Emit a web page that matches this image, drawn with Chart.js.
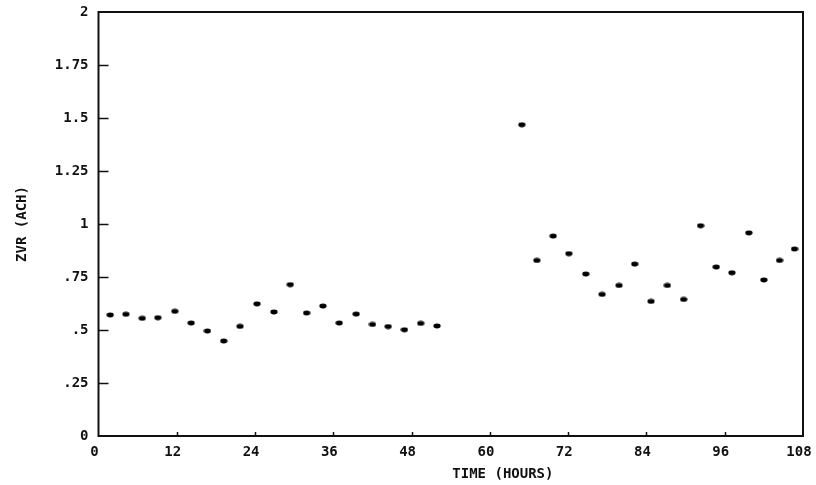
<!DOCTYPE html>
<html>
<head>
<meta charset="utf-8">
<script src="https://cdn.jsdelivr.net/npm/chart.js@4.4.1/dist/chart.umd.min.js"></script>
<style>
  html, body { margin: 0; padding: 0; background: #fff; }
  #wrap { position: relative; width: 816px; height: 485px; }
</style>
</head>
<body>
<div id="wrap"><canvas id="chart-zvr" width="816" height="485"></canvas></div>
<script>
/* ── ZVR vs time ── two test periods ── */

// first period (0 – 52 h)
const hoursA = [1.8, 4.2, 6.7, 9.1, 11.7, 14.2, 16.7, 19.2, 21.7, 24.3, 26.9,
                29.4, 31.9, 34.4, 36.9, 39.5, 42.0, 44.4, 46.9, 49.4, 51.9];
const zvrA   = [0.571, 0.574, 0.555, 0.558, 0.588, 0.533, 0.495, 0.448, 0.517, 0.623, 0.585,
                0.714, 0.580, 0.613, 0.533, 0.575, 0.526, 0.516, 0.501, 0.531, 0.519];

// second period (65 – 107 h)
const hoursB = [64.9, 67.2, 69.7, 72.1, 74.7, 77.2, 79.8, 82.2, 84.7, 87.2,
                89.7, 92.3, 94.7, 97.1, 99.7, 102.0, 104.4, 106.7];
const zvrB   = [1.468, 0.828, 0.943, 0.860, 0.764, 0.668, 0.710, 0.811, 0.635, 0.710,
                0.644, 0.992, 0.797, 0.770, 0.958, 0.736, 0.828, 0.882];

// axes
const xTicks      = [0, 12, 24, 36, 48, 60, 72, 84, 96, 108];
const yTicks      = [0, 0.25, 0.5, 0.75, 1, 1.25, 1.5, 1.75, 2];
const yTickLabels = ['0', '.25', '.5', '.75', '1', '1.25', '1.5', '1.75', '2'];
const xTitle = 'TIME (HOURS)';
const yTitle = 'ZVR (ACH)';

const toPts = (xs, ys) => xs.map((x, i) => ({ x, y: ys[i] }));

const FONT = "'DejaVu Sans Mono', 'Liberation Mono', monospace";
const INK  = '#111';

// little flat dot like the plotter pen mark
function dot() {
  const c = document.createElement('canvas');
  c.width = 8; c.height = 6;
  const g = c.getContext('2d');
  g.fillStyle = '#000';
  g.beginPath();
  g.ellipse(4, 3, 3.6, 2.4, 0, 0, Math.PI * 2);
  g.fill();
  return c;
}
const dotImg = dot();

// frame, inward ticks and x title
const plotterFrame = {
  id: 'plotterFrame',
  afterDraw(chart) {
    const { ctx, chartArea: a, scales: { x, y } } = chart;
    ctx.save();
    ctx.strokeStyle = INK;
    ctx.lineWidth = 2;
    ctx.strokeRect(a.left, a.top, a.right - a.left, a.bottom - a.top);

    ctx.lineWidth = 1.5;
    ctx.beginPath();
    yTicks.slice(1, -1).forEach(v => {
      const py = Math.round(y.getPixelForValue(v)) + 0.5;
      ctx.moveTo(a.left, py);
      ctx.lineTo(a.left + 10, py);
    });
    xTicks.slice(1, -1).forEach(v => {
      const px = Math.round(x.getPixelForValue(v)) + 0.5;
      ctx.moveTo(px, a.bottom);
      ctx.lineTo(px, a.bottom - 4);
    });
    ctx.stroke();

    ctx.fillStyle = INK;
    ctx.font = `bold 14px ${FONT}`;
    ctx.textAlign = 'center';
    ctx.textBaseline = 'middle';
    ctx.fillText(xTitle, a.left + (a.right - a.left) * 0.574, 474);
    ctx.restore();
  }
};

new Chart(document.getElementById('chart-zvr'), {
  type: 'scatter',
  data: {
    datasets: [
      { label: 'ZVR 1', data: toPts(hoursA, zvrA), pointStyle: dotImg, backgroundColor: INK },
      { label: 'ZVR 2', data: toPts(hoursB, zvrB), pointStyle: dotImg, backgroundColor: INK },
    ],
  },
  options: {
    responsive: false,
    animation: false,
    events: [],
    layout: { padding: { top: 12, right: 13, left: 0, bottom: 0 } },
    plugins: { legend: { display: false }, tooltip: { enabled: false } },
    scales: {
      x: {
        type: 'linear',
        min: 0, max: 108,
        afterFit: s => { s.height = 49; s.paddingLeft = 0; s.paddingRight = 0; },
        afterBuildTicks: s => { s.ticks = xTicks.map(v => ({ value: v })); },
        grid: { drawOnChartArea: false, drawTicks: false },
        border: { display: false },
        ticks: { color: INK, padding: 8, labelOffset: -4, maxRotation: 0, autoSkip: false,
                 font: { family: FONT, size: 14, weight: 'bold' } },
      },
      y: {
        type: 'linear',
        min: 0, max: 2,
        afterFit: s => { s.width = 98.5; s.paddingTop = 0; s.paddingBottom = 0; },
        afterBuildTicks: s => { s.ticks = yTicks.map(v => ({ value: v })); },
        grid: { drawOnChartArea: false, drawTicks: false },
        border: { display: false },
        ticks: { color: INK, padding: 10, autoSkip: false,
                 font: { family: FONT, size: 14, weight: 'bold' },
                 callback: v => yTickLabels[yTicks.indexOf(v)] ?? '' },
        title: { display: true, text: yTitle, color: INK, padding: { top: 14, bottom: 0 },
                 font: { family: FONT, size: 14, weight: 'bold' } },
      },
    },
  },
  plugins: [plotterFrame],
});
</script>
</body>
</html>
